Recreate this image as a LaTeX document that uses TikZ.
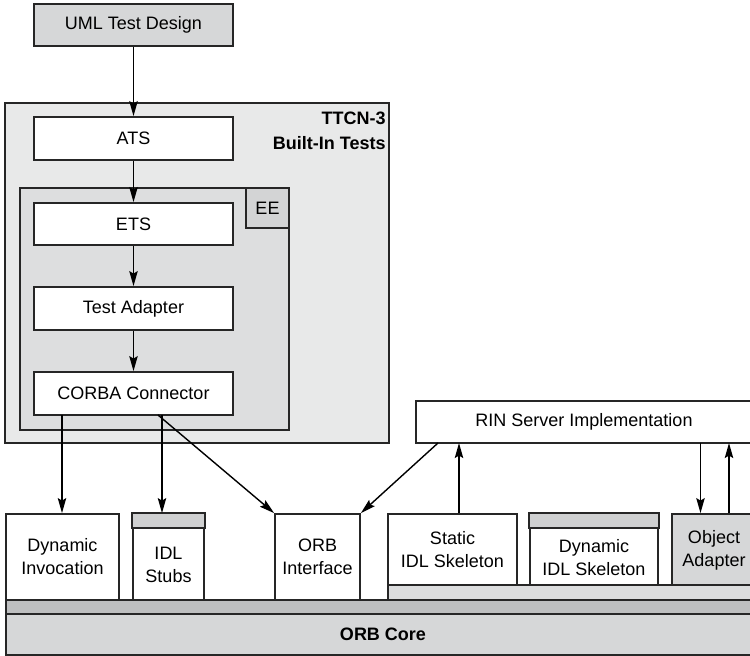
\documentclass[tikz,border=0pt]{standalone}
\usepackage{fontspec}
\setmainfont{Liberation Sans}
\usetikzlibrary{arrows.meta}
\definecolor{outerfill}{HTML}{E8E9E9}
\definecolor{eefill}{HTML}{DDDEDF}
\definecolor{tagfill}{HTML}{D3D4D5}
\definecolor{umlfill}{HTML}{D6D7D8}
\definecolor{corefill}{HTML}{D6D7D8}
\definecolor{bandfill}{HTML}{BEBFC0}
\definecolor{hdrfill}{HTML}{CFD0D1}
\definecolor{rbandfill}{HTML}{DCDDDE}
\tikzset{
  box/.style={draw=black!85, line width=0.85pt, fill=white, inner sep=0pt, align=center,
    font=\fontsize{9}{11.5}\selectfont},
  arr/.style={draw=black, line width=0.7pt, -{Stealth[length=7.5pt,width=4.2pt,inset=1.2pt]}},
  lbl/.style={inner sep=0pt, align=center, font=\fontsize{9}{11.5}\selectfont},
}
\begin{document}
\begin{tikzpicture}[x=0.5pt,y=-0.5pt]
\useasboundingbox (0,0) rectangle (750,656);
\fill[white] (0,0) rectangle (750,656);
% top
\node[box, fill=umlfill, minimum width=99.5pt, minimum height=21pt] (uml) at (133.5,25) {UML Test Design};
\node[box, fill=outerfill, minimum width=192pt, minimum height=170pt] (ttcn) at (197,273) {};
\node[lbl, anchor=north east, align=right, font=\fontsize{9}{12.5}\selectfont\bfseries] (ttcnlbl) at (386,112) {TTCN-3\\Built-In Tests};
\node[box, minimum width=99.5pt, minimum height=21.5pt] (ats) at (133.5,138.5) {ATS};
\node[box, fill=eefill, minimum width=134.5pt, minimum height=121pt] (ee) at (154.5,309) {};
\node[box, fill=tagfill, minimum width=21.5pt, minimum height=20pt] (eetag) at (267.5,208) {EE};
\node[box, minimum width=99.5pt, minimum height=21pt] (ets) at (133.5,224) {ETS};
\node[box, minimum width=99.5pt, minimum height=21.5pt] (ta) at (133.5,308.5) {Test Adapter};
\node[box, minimum width=99.5pt, minimum height=21.5pt] (cc) at (133.5,393.5) {CORBA Connector};
\node[box, minimum width=168pt, minimum height=21pt] (rin) at (584,422) {RIN Server Implementation};
% bottom layers
\node[box, fill=corefill, minimum width=377pt, minimum height=20.5pt, font=\fontsize{9}{11.5}\selectfont\bfseries] (core) at (383,634.5) {ORB Core};
\node[box, fill=bandfill, minimum width=373pt, minimum height=7pt] (band) at (379,607) {};
\node[box, fill=rbandfill, minimum width=182pt, minimum height=7.5pt] (rband) at (570,592.5) {};
% components
\node[box, minimum width=56.5pt, minimum height=43pt] (dyninv) at (62.5,557) {Dynamic\\Invocation};
\node[box, minimum width=35.5pt, minimum height=43pt] (stubs) at (168.5,557) {};
\draw[line width=0.85pt, draw=black!85, fill=hdrfill] (stubs.north west) rectangle ([yshift=-7.5pt]stubs.north east);
\node[lbl] (stubsT) at (168.5,565) {IDL\\Stubs};
\node[box, minimum width=42.5pt, minimum height=43pt] (orbint) at (317.5,557) {ORB\\Interface};
\node[box, minimum width=64.5pt, minimum height=35.5pt] (static) at (452.5,549.5) {Static\\IDL Skeleton};
\node[box, minimum width=64pt, minimum height=35.5pt] (dynskel) at (594,549.5) {};
\draw[line width=0.85pt, draw=black!85, fill=hdrfill] (dynskel.north west) rectangle ([yshift=-7.5pt]dynskel.north east);
\node[lbl] (dynskelT) at (594,558) {Dynamic\\IDL Skeleton};
\node[box, fill=corefill, minimum width=40pt, minimum height=35.5pt] (objad) at (712,549.5) {};
\node[lbl] (objadT) at (714,550) {Object\\Adapter};
% connector anchor points
\coordinate (ccA) at (62,415);
\coordinate (ccB) at (162,415);
\coordinate (ccC) at (158,415);
\coordinate (rinA) at (438,443);
\coordinate (rinB) at (459,443);
\coordinate (rinC) at (700.5,443);
\coordinate (rinD) at (729,443);
% arrows
\draw[arr] (uml.south) -- (ats.north);
\draw[arr] (ats.south) -- (ets.north);
\draw[arr] (ets.south) -- (ta.north);
\draw[arr] (ta.south) -- (cc.north);
\draw[arr] (ccA) -- (ccA |- dyninv.north);
\draw[arr] (ccB) -- (ccB |- stubs.north);
\draw[arr] (ccC) -- (orbint.north west);
\draw[arr] (rinA) -- (orbint.north east);
\draw[arr] (rinB |- static.north) -- (rinB);
\draw[arr] (rinC) -- (rinC |- objad.north);
\draw[arr] (rinD |- objad.north) -- (rinD);
\end{tikzpicture}
\end{document}
